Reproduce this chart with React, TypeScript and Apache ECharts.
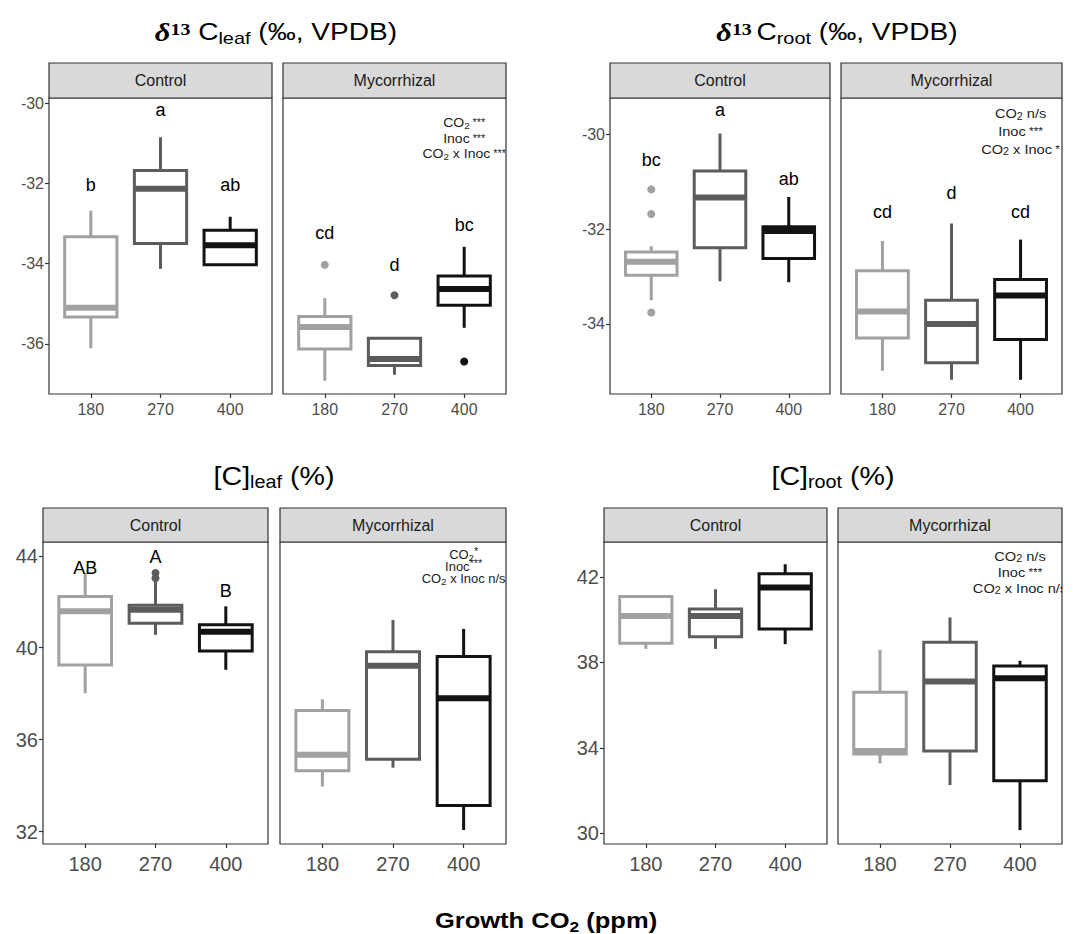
import React, { useEffect, useRef } from "react";
import * as echarts from "echarts";

// ---------------- DATA ----------------
const categories = ["180", "270", "400"];
const facets = ["Control", "Mycorrhizal"];

// box stats per CO2 level: [lower whisker, Q1, median, Q3, upper whisker]
const leafD13Control = [
  [-36.11, -35.33, -35.1, -33.33, -32.68],
  [-34.13, -33.5, -32.13, -31.68, -30.85],
  [-34.05, -34.03, -33.54, -33.17, -32.83],
];
const leafD13Myco = [
  [-36.92, -36.13, -35.58, -35.32, -34.86],
  [-36.77, -36.54, -36.38, -35.86, -35.83],
  [-35.6, -35.04, -34.63, -34.31, -33.58],
];
const leafD13ControlOutliers: [string, number][] = [];
const leafD13MycoOutliers: [string, number][] = [["180", -34.03], ["270", -34.79], ["400", -36.44]];
const leafD13ControlLetters = ["b", "a", "ab"];
const leafD13ControlLetterY = [-32.04, -30.17, -32.04];
const leafD13MycoLetters = ["cd", "d", "bc"];
const leafD13MycoLetterY = [-33.23, -34.04, -33.04];
const leafD13Ticks = [-36, -34, -32, -30];
const leafD13Range = [-37.25, -29.87];

const rootD13Control = [
  [-33.5, -32.97, -32.69, -32.48, -32.36],
  [-33.1, -32.39, -31.33, -30.77, -29.98],
  [-33.12, -32.62, -32.04, -31.95, -31.32],
];
const rootD13Myco = [
  [-34.99, -34.3, -33.74, -32.88, -32.25],
  [-35.18, -34.82, -34.0, -33.5, -31.88],
  [-35.18, -34.33, -33.4, -33.06, -32.22],
];
const rootD13ControlOutliers: [string, number][] = [["180", -31.16], ["180", -31.68], ["180", -33.76]];
const rootD13MycoOutliers: [string, number][] = [];
const rootD13ControlLetters = ["bc", "a", "ab"];
const rootD13ControlLetterY = [-30.54, -29.49, -30.94];
const rootD13MycoLetters = ["cd", "d", "cd"];
const rootD13MycoLetterY = [-31.63, -31.24, -31.63];
const rootD13Ticks = [-34, -32, -30];
const rootD13Range = [-35.48, -29.23];

const leafCControl = [
  [38.02, 39.25, 41.59, 42.23, 43.25],
  [40.56, 41.07, 41.65, 41.85, 42.9],
  [39.04, 39.86, 40.7, 41.0, 41.8],
];
const leafCMyco = [
  [33.96, 34.65, 35.34, 37.27, 37.76],
  [34.78, 35.15, 39.22, 39.83, 41.21],
  [32.07, 33.13, 37.8, 39.62, 40.82],
];
const leafCControlOutliers: [string, number][] = [["270", 43.25], ["270", 43.02]];
const leafCMycoOutliers: [string, number][] = [];
const leafCControlLetters = ["AB", "A", "B"];
const leafCControlLetterY = [43.46, 43.93, 42.45];
const leafCMycoLetters: string[] = [];
const leafCMycoLetterY: number[] = [];
const leafCTicks = [32, 36, 40, 44];
const leafCRange = [31.46, 44.6];

const rootCControl = [
  [38.63, 38.89, 40.17, 41.08, 41.08],
  [38.63, 39.2, 40.17, 40.5, 41.42],
  [38.85, 39.56, 41.5, 42.14, 42.59],
];
const rootCMyco = [
  [33.27, 33.71, 33.85, 36.6, 38.58],
  [32.26, 33.85, 37.1, 38.94, 40.1],
  [30.15, 32.46, 37.26, 37.83, 38.07],
];
const rootCControlOutliers: [string, number][] = [];
const rootCMycoOutliers: [string, number][] = [];
const rootCTicks = [30, 34, 38, 42];
const rootCRange = [29.5, 43.63];

const panelTitles = [
  "{d|δ}{u|13}{m| C}{s|leaf}{m| (‰, VPDB)}",
  "{d|δ}{u|13}{c|C}{s|root}{m| (‰, VPDB)}",
  "{m|[C]}{s|leaf}{m| (%)}",
  "{m|[C]}{s|root}{m| (%)}",
];
const annotations = [
  "{m|CO}{s|2}{p| ***}\n{m|Inoc}{p| ***}\n{m|CO}{s|2}{m| x Inoc}{p| ***}",
  "{m|CO}{s|2}{m| n/s}\n{m|Inoc}{p| ***}\n{m|CO}{s|2}{m| x Inoc}{p| *}",
  "{m|CO}{s|2}{p|*}\n{m|Inoc}{p|***}\n{m|CO}{s|2}{m| x Inoc n/s}",
  "{m|CO}{s|2}{m| n/s}\n{m|Inoc}{p| ***}\n{m|CO}{s|2}{m| x Inoc n/s}",
];
const annotationY = [-30.88, -29.93, 43.5, 42.23];
const xTitle = "{b|Growth CO}{s|2}{b| (ppm)}";

// ---------------- STYLE / LAYOUT ----------------
const FONT = "Liberation Sans";
const boxColors = ["#a1a1a1", "#5c5c5c", "#121212"];
const layouts = [
  { top: 98, bottom: 394, ctrl: [49, 272], myc: [283, 506], strip: 35, tx: 276, ty: 32, tfs: 24, tickFs: 16, xMargin: 7, ann: { fs: 13, sp: 15.5, sup: 0 } },
  { top: 98, bottom: 394, ctrl: [610, 830], myc: [841, 1062], strip: 35, tx: 837, ty: 32, tfs: 24, tickFs: 16, xMargin: 7, ann: { fs: 13.5, sp: 18, sup: 0 } },
  { top: 542, bottom: 844, ctrl: [43, 268], myc: [280, 506], strip: 34, tx: 274, ty: 476, tfs: 26, tickFs: 20, xMargin: 10, ann: { fs: 12, sp: 12, sup: 7 } },
  { top: 542, bottom: 844, ctrl: [604, 827], myc: [838, 1062], strip: 34, tx: 833, ty: 476, tfs: 26, tickFs: 20, xMargin: 10, ann: { fs: 13.5, sp: 16, sup: 0 } },
];

type Group = { stats: number[][]; outliers: [string, number][]; letters: string[]; letterY: number[] };
type PanelDef = { range: number[]; ticks: number[]; groups: Group[] };

const panels: PanelDef[] = [
  {
    range: leafD13Range, ticks: leafD13Ticks,
    groups: [
      { stats: leafD13Control, outliers: leafD13ControlOutliers, letters: leafD13ControlLetters, letterY: leafD13ControlLetterY },
      { stats: leafD13Myco, outliers: leafD13MycoOutliers, letters: leafD13MycoLetters, letterY: leafD13MycoLetterY },
    ],
  },
  {
    range: rootD13Range, ticks: rootD13Ticks,
    groups: [
      { stats: rootD13Control, outliers: rootD13ControlOutliers, letters: rootD13ControlLetters, letterY: rootD13ControlLetterY },
      { stats: rootD13Myco, outliers: rootD13MycoOutliers, letters: rootD13MycoLetters, letterY: rootD13MycoLetterY },
    ],
  },
  {
    range: leafCRange, ticks: leafCTicks,
    groups: [
      { stats: leafCControl, outliers: leafCControlOutliers, letters: leafCControlLetters, letterY: leafCControlLetterY },
      { stats: leafCMyco, outliers: leafCMycoOutliers, letters: leafCMycoLetters, letterY: leafCMycoLetterY },
    ],
  },
  {
    range: rootCRange, ticks: rootCTicks,
    groups: [
      { stats: rootCControl, outliers: rootCControlOutliers, letters: [], letterY: [] },
      { stats: rootCMyco, outliers: rootCMycoOutliers, letters: [], letterY: [] },
    ],
  },
];

function tok(o: any) {
  return { fontFamily: FONT, align: "center", verticalAlign: "middle", ...o, fill: o.color, color: o.color };
}

function annRich(fs: number, sp: number, sup: number) {
  const fss = Math.round(fs * 0.72);
  const fsp = Math.round(fs * 0.8);
  const pt = Math.max(0, 2 * (0.35 * fs + 0.13 * fs - 0.35 * fss));
  return {
    m: tok({ fontSize: fs, lineHeight: sp, color: "#222" }),
    s: tok({ fontSize: fss, lineHeight: 1, padding: [pt, 0, 0, 0], color: "#222" }),
    p: tok({ fontSize: fsp, lineHeight: 1, padding: [0, 0, sup, 0], color: "#222" }),
  };
}

function titleRich(fs: number, k: number) {
  const fss = Math.round(fs * 0.7);
  const pt = 2 * (0.35 * fs + k * fs - 0.35 * fss);
  return {
    m: tok({ fontSize: fs, color: "#000" }),
    c: tok({ fontSize: fs, color: "#000", padding: [0, 0, 0, 4] }),
    s: tok({ fontSize: fss, lineHeight: 1, padding: [pt, 0, 0, 0], color: "#000" }),
    d: tok({ fontSize: fs + 2, fontFamily: "Liberation Serif", fontWeight: "bold", fontStyle: "italic", color: "#000" }),
    u: tok({ fontSize: 17, fontFamily: "Liberation Serif", fontWeight: "bold", lineHeight: 1, padding: [0, 0, 6, 0], color: "#000" }),
  };
}

function renderBox(params: any, api: any) {
  const x = api.value(0);
  const mn = api.value(1), q1 = api.value(2), md = api.value(3), q3 = api.value(4), mx = api.value(5);
  const c = boxColors[api.value(6)];
  const hw = 0.375;
  const tl = api.coord([x - hw, q3]);
  const br = api.coord([x + hw, q1]);
  const pMin = api.coord([x, mn]);
  const pMax = api.coord([x, mx]);
  const mL = api.coord([x - hw, md]);
  const mR = api.coord([x + hw, md]);
  return {
    type: "group",
    children: [
      { type: "line", shape: { x1: pMax[0], y1: pMax[1], x2: pMax[0], y2: tl[1] }, style: { stroke: c, lineWidth: 3 } },
      { type: "line", shape: { x1: pMin[0], y1: pMin[1], x2: pMin[0], y2: br[1] }, style: { stroke: c, lineWidth: 3 } },
      { type: "rect", shape: { x: tl[0], y: tl[1], width: br[0] - tl[0], height: br[1] - tl[1] }, style: { fill: "#fff", stroke: c, lineWidth: 3 } },
      { type: "line", shape: { x1: mL[0], y1: mL[1], x2: mR[0], y2: mR[1] }, style: { stroke: c, lineWidth: 6 } },
    ],
  };
}

function buildOption() {
  const grid: any[] = [];
  const xAxis: any[] = [];
  const yAxis: any[] = [];
  const series: any[] = [];
  const graphic: any[] = [];

  panels.forEach((p, pi) => {
    const L = layouts[pi];
    p.groups.forEach((g, fi) => {
      const gi = pi * 2 + fi;
      const [left, right] = fi === 0 ? L.ctrl : L.myc;
      grid.push({
        left, top: L.top, width: right - left, height: L.bottom - L.top,
        show: true, borderColor: "#333", borderWidth: 1.2, backgroundColor: "#fff", containLabel: false,
      });
      xAxis.push({
        type: "value", gridIndex: gi, min: 0.4, max: 3.6,
        axisLine: { show: false }, splitLine: { show: false },
        axisTick: { show: true, customValues: [1, 2, 3], length: 4, lineStyle: { color: "#333", width: 1.2 } },
        axisLabel: {
          customValues: [1, 2, 3], formatter: (v: number) => categories[Math.round(v) - 1] ?? "",
          color: "#4d4d4d", fontSize: L.tickFs, fontFamily: FONT, margin: L.xMargin,
        },
      });
      yAxis.push({
        type: "value", gridIndex: gi, min: p.range[0], max: p.range[1],
        axisLine: { show: false }, splitLine: { show: false },
        axisTick: { show: fi === 0, customValues: p.ticks, length: 4, lineStyle: { color: "#333", width: 1.2 } },
        axisLabel: { show: fi === 0, customValues: p.ticks, color: "#4d4d4d", fontSize: L.tickFs, fontFamily: FONT, margin: 5 },
      });
      series.push({
        type: "custom", xAxisIndex: gi, yAxisIndex: gi,
        data: g.stats.map((s, i) => [i + 1, ...s, i]),
        encode: { x: 0, y: [1, 2, 3, 4, 5] },
        renderItem: renderBox,
        silent: true,
      });
      if (g.outliers.length) {
        series.push({
          type: "scatter", xAxisIndex: gi, yAxisIndex: gi, symbolSize: 8, silent: true,
          data: g.outliers.map(([c, v]) => {
            const i = categories.indexOf(c);
            return { value: [i + 1, v], itemStyle: { color: boxColors[i], opacity: 1 } };
          }),
        });
      }
      if (g.letters.length) {
        series.push({
          type: "custom", xAxisIndex: gi, yAxisIndex: gi, silent: true,
          data: g.letters.map((_, i) => [i + 1, g.letterY[i]]),
          encode: { x: 0, y: 1 },
          renderItem: (params: any, api: any) => {
            const pt = api.coord([api.value(0), api.value(1)]);
            return {
              type: "text", x: pt[0], y: pt[1],
              style: { text: g.letters[params.dataIndex], fontSize: 18, fontFamily: FONT, fill: "#000", align: "center", verticalAlign: "middle" },
            };
          },
        });
      }
      if (fi === 1) {
        series.push({
          type: "custom", xAxisIndex: gi, yAxisIndex: gi, silent: true, clip: true,
          data: [[3, annotationY[pi]]],
          encode: { x: 0, y: 1 },
          renderItem: (params: any, api: any) => {
            const pt = api.coord([api.value(0), api.value(1)]);
            return {
              type: "text", x: pt[0], y: pt[1], scaleX: 1.08,
              style: {
                text: annotations[pi], rich: annRich(L.ann.fs, L.ann.sp, L.ann.sup),
                align: "center", verticalAlign: "middle", fontFamily: FONT, fill: "#222",
              },
            };
          },
        });
      }
      // facet strip
      graphic.push({
        type: "rect", shape: { x: left, y: L.top - L.strip, width: right - left, height: L.strip },
        style: { fill: "#d9d9d9", stroke: "#333", lineWidth: 1.2 }, silent: true,
      });
      graphic.push({
        type: "text", x: (left + right) / 2, y: L.top - L.strip / 2,
        style: { text: facets[fi], fontSize: 16, fontFamily: FONT, fill: "#1a1a1a", align: "center", verticalAlign: "middle" },
        silent: true,
      });
    });
    graphic.push({
      type: "text", x: L.tx, y: L.ty, scaleX: pi < 2 ? 1.17 : 1.1,
      style: { text: panelTitles[pi], rich: titleRich(L.tfs, pi < 2 ? 0.15 : 0.1), align: "center", verticalAlign: "middle", fontFamily: FONT, fill: "#000" },
      silent: true,
    });
  });

  graphic.push({
    type: "text", x: 546, y: 920, scaleX: 1.16,
    style: {
      text: xTitle,
      rich: {
        b: tok({ fontSize: 22, fontWeight: "bold", color: "#000" }),
        s: tok({ fontSize: 15, fontWeight: "bold", lineHeight: 1, padding: [2 * (0.35 * 22 + 4.3 - 0.35 * 15), 0, 0, 0], color: "#000" }),
      },
      align: "center", verticalAlign: "middle", fontFamily: FONT, fill: "#000",
    },
    silent: true,
  });

  return {
    animation: false,
    backgroundColor: "#fff",
    textStyle: { fontFamily: FONT },
    grid, xAxis, yAxis, series, graphic,
  };
}

export default function App() {
  const ref = useRef<HTMLDivElement>(null);
  useEffect(() => {
    const chart = echarts.init(ref.current!, null, { renderer: "svg" });
    chart.setOption(buildOption() as any);
    return () => chart.dispose();
  }, []);
  return (
    <div
      ref={ref}
      style={{ position: "absolute", left: 0, top: 0, width: 1087, height: 934, background: "#fff" }}
    />
  );
}
